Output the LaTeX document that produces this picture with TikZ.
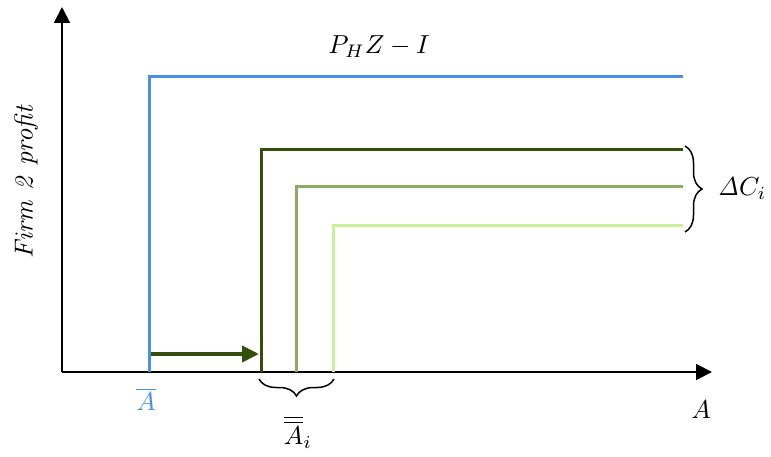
\documentclass[tikz,border=0pt]{standalone}
\usetikzlibrary{arrows.meta,decorations.pathreplacing}
\definecolor{cblue}{RGB}{74,144,226}
\definecolor{cdark}{RGB}{52,78,14}
\definecolor{cmed}{RGB}{140,172,102}
\definecolor{clight}{RGB}{200,240,148}
\tikzset{
  axis/.style={line width=1.9pt,-{Triangle[length=16pt,width=16pt]}},
  curve/.style={line width=3pt},
  lbl/.style={inner sep=0pt,scale=2.6},
  brc/.style={line width=1.5pt,decorate,decoration={brace,amplitude=17pt}}
}
\begin{document}
\begin{tikzpicture}[x=1pt,y=-1pt]
\useasboundingbox (0,0) rectangle (771,457);
% axes
\coordinate (O) at (62,372);
\coordinate (Ytop) at (62,7);
\coordinate (Xend) at (712,372);
\draw[axis] (O) -- (Ytop);
\draw[axis] (O) -- (Xend);
% profit lines
\coordinate (b0) at (149.5,372); \coordinate (b1) at (149.5,77); \coordinate (b2) at (683,77);
\coordinate (d0) at (261,372); \coordinate (d1) at (261,150); \coordinate (d2) at (683,150);
\coordinate (m0) at (296.5,372); \coordinate (m1) at (296.5,187); \coordinate (m2) at (683,187);
\coordinate (l0) at (333.5,372); \coordinate (l1) at (333.5,226); \coordinate (l2) at (683,226);
\draw[curve,cblue] (b0) -- (b1) -- (b2);
\draw[curve,cdark] (d0) -- (d1) -- (d2);
\draw[curve,cmed] (m0) -- (m1) -- (m2);
\draw[curve,clight] (l0) -- (l1) -- (l2);
% shift arrow
\coordinate (s0) at (151,354);
\coordinate (s1) at (259,354);
\draw[line width=3.8pt,cdark,-{Triangle[length=17pt,width=16pt]}] (s0) -- (s1);
% braces
\coordinate (rb0) at (685,146); \coordinate (rb1) at (685,232);
\draw[brc] (rb0) -- (rb1);
\coordinate (bb0) at (334,379); \coordinate (bb1) at (259,379);
\draw[brc] (bb0) -- (bb1);
% labels
\node[lbl] (ph) at (379,47) {$P_H Z - I$};
\node[lbl] (dc) at (742,189) {$\mathit{\Delta} C_i$};
\node[lbl,cblue] (abar) at (146,399) {$\overline{A}$};
\node[lbl] (aii) at (298,432) {$\overline{\overline{A}}_i$};
\node[lbl] (ax) at (701,410) {$A$};
\node[lbl,rotate=90] (yl) at (26,181) {$\mathit{Firm\ 2\ profit}$};
\end{tikzpicture}
\end{document}
